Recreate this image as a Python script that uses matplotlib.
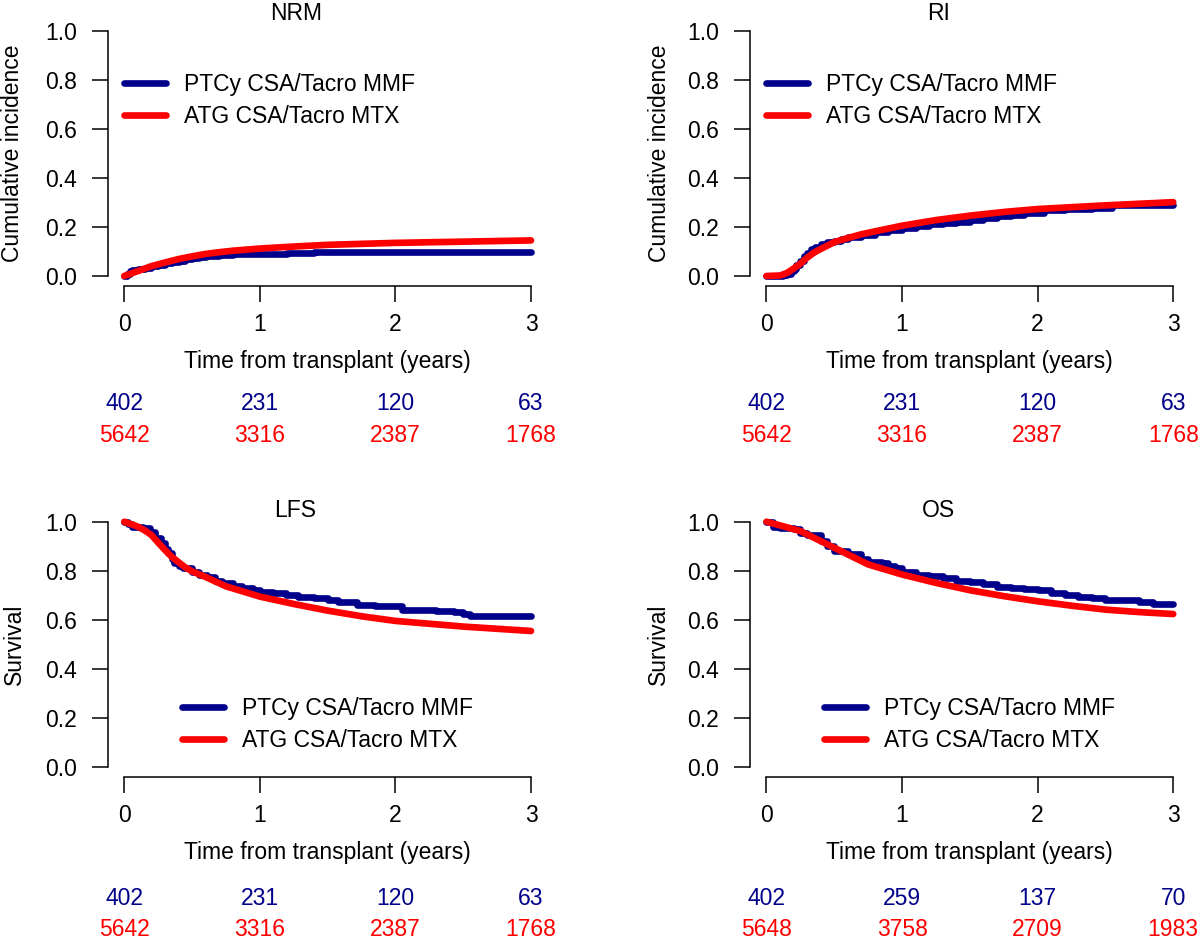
import matplotlib
matplotlib.use("Agg")
import matplotlib.pyplot as plt
import matplotlib.transforms as mtransforms
from matplotlib.lines import Line2D

plt.rcParams['font.family'] = ['Liberation Sans', 'DejaVu Sans']

# --- data ---
BLUE = "#00008B"
RED = "#FF0000"
LABEL_PT = "PTCy CSA/Tacro MMF"
LABEL_ATG = "ATG CSA/Tacro MTX"

# NRM
nrm_pt_t = [0, 0.02, 0.04, 0.06, 0.1, 0.15, 0.2, 0.25, 0.3, 0.35, 0.4, 0.45, 0.5, 0.55,
            0.6, 0.7, 0.8, 0.9, 1.0, 1.2, 1.4, 3.0]
nrm_pt_v = [0, 0.010, 0.020, 0.026, 0.028, 0.033, 0.040, 0.046, 0.052, 0.057, 0.063, 0.068,
            0.072, 0.076, 0.080, 0.085, 0.088, 0.089, 0.090, 0.092, 0.096, 0.096]
nrm_atg_t = [0, 0.05, 0.1, 0.2, 0.3, 0.4, 0.5, 0.6, 0.7, 0.8, 1.0, 1.25, 1.5, 2.0, 2.5, 3.0]
nrm_atg_v = [0, 0.010, 0.020, 0.040, 0.055, 0.069, 0.080, 0.090, 0.097, 0.103, 0.112,
             0.120, 0.127, 0.135, 0.140, 0.145]

# RI
ri_pt_t = [0, 0.12, 0.15, 0.18, 0.2, 0.22, 0.25, 0.28, 0.3, 0.33, 0.36, 0.4, 0.45, 0.5,
           0.55, 0.6, 0.7, 0.8, 0.9, 1.0, 1.1, 1.2, 1.3, 1.4, 1.5, 1.6, 1.7, 1.8, 1.9,
           2.05, 2.2, 2.4, 2.55, 3.0]
ri_pt_v = [0, 0.005, 0.01, 0.02, 0.03, 0.045, 0.06, 0.08, 0.095, 0.11, 0.12, 0.13, 0.138,
           0.143, 0.15, 0.158, 0.168, 0.178, 0.186, 0.195, 0.203, 0.21, 0.216, 0.222,
           0.228, 0.236, 0.243, 0.25, 0.255, 0.268, 0.272, 0.277, 0.29, 0.29]
ri_atg_t = [0, 0.1, 0.15, 0.2, 0.25, 0.3, 0.35, 0.4, 0.5, 0.6, 0.7, 0.8, 1.0, 1.25, 1.5,
            1.75, 2.0, 2.5, 3.0]
ri_atg_v = [0, 0.002, 0.012, 0.03, 0.05, 0.075, 0.095, 0.11, 0.138, 0.155, 0.17, 0.182,
            0.205, 0.228, 0.246, 0.261, 0.273, 0.288, 0.301]

# LFS
lfs_pt_t = [0, 0.03, 0.06, 0.14, 0.19, 0.23, 0.27, 0.3, 0.32, 0.35, 0.37, 0.4, 0.43, 0.5,
            0.55, 0.61, 0.67, 0.72, 0.8, 0.87, 0.95, 1.0, 1.1, 1.19, 1.28, 1.4, 1.5, 1.58,
            1.72, 1.85, 2.05, 2.3, 2.43, 2.5, 2.55, 3.0]
lfs_pt_v = [1.0, 0.99, 0.98, 0.973, 0.96, 0.935, 0.912, 0.89, 0.871, 0.85, 0.83, 0.82,
            0.81, 0.795, 0.785, 0.776, 0.76, 0.749, 0.738, 0.729, 0.722, 0.715, 0.708,
            0.701, 0.695, 0.688, 0.68, 0.674, 0.661, 0.657, 0.64, 0.638, 0.632, 0.625,
            0.616, 0.616]
lfs_atg_t = [0, 0.05, 0.1, 0.15, 0.2, 0.25, 0.3, 0.35, 0.4, 0.45, 0.5, 0.6, 0.75, 1.0,
             1.25, 1.5, 1.75, 2.0, 2.5, 3.0]
lfs_atg_v = [1.0, 0.99, 0.98, 0.965, 0.946, 0.915, 0.885, 0.857, 0.835, 0.814, 0.798,
             0.775, 0.737, 0.695, 0.665, 0.638, 0.615, 0.596, 0.573, 0.555]

# OS
os_pt_t = [0, 0.05, 0.1, 0.2, 0.25, 0.3, 0.4, 0.45, 0.5, 0.6, 0.7, 0.75, 0.85, 0.9, 0.95,
           1.0, 1.1, 1.2, 1.3, 1.4, 1.5, 1.6, 1.7, 1.8, 1.9, 2.0, 2.1, 2.2, 2.3, 2.4, 2.5,
           2.75, 2.85, 3.0]
os_pt_v = [1.0, 0.98, 0.975, 0.97, 0.955, 0.945, 0.92, 0.90, 0.88, 0.87, 0.85, 0.835, 0.83,
           0.82, 0.81, 0.795, 0.785, 0.78, 0.77, 0.76, 0.755, 0.745, 0.735, 0.73, 0.725,
           0.72, 0.71, 0.70, 0.695, 0.69, 0.68, 0.675, 0.665, 0.665]
os_atg_t = [0, 0.1, 0.25, 0.5, 0.75, 1.0, 1.25, 1.5, 1.75, 2.0, 2.25, 2.5, 2.75, 3.0]
os_atg_v = [1.0, 0.985, 0.962, 0.894, 0.826, 0.785, 0.751, 0.721, 0.697, 0.676, 0.658,
            0.642, 0.632, 0.624]

# numbers at risk at years 0..3
risk_years = [0, 1, 2, 3]
nrm_risk_pt = [402, 231, 120, 63]
nrm_risk_atg = [5642, 3316, 2387, 1768]
ri_risk_pt = [402, 231, 120, 63]
ri_risk_atg = [5642, 3316, 2387, 1768]
lfs_risk_pt = [402, 231, 120, 63]
lfs_risk_atg = [5642, 3316, 2387, 1768]
os_risk_pt = [402, 259, 137, 70]
os_risk_atg = [5648, 3758, 2709, 1983]

# --- layout (pixels of the 1200x942 canvas) ---
W, H = 1200, 942
FS = 16.5
LW = 4.8

fig = plt.figure(figsize=(W / 100, H / 100), dpi=100)


def fx(x):
    return x / W


def fy(y):
    return 1 - y / H


def make_ax(left, top, right, bottom):
    ax = fig.add_axes([fx(left), fy(bottom), (right - left) / W, (bottom - top) / H])
    ax.set_xlim(-0.12, 3.12)
    ax.set_ylim(-0.04, 1.04)
    for s in ("top", "right"):
        ax.spines[s].set_visible(False)
    ax.spines["left"].set_bounds(0, 1)
    ax.spines["bottom"].set_bounds(0, 3)
    for s in ("left", "bottom"):
        ax.spines[s].set_linewidth(1.1)
    ax.set_xticks([0, 1, 2, 3])
    ax.set_yticks([0, 0.2, 0.4, 0.6, 0.8, 1.0])
    ax.set_yticklabels(["0.0", "0.2", "0.4", "0.6", "0.8", "1.0"])
    ax.tick_params(axis="both", direction="out", length=11.5, width=1.1, labelsize=FS)
    ax.tick_params(axis="y", pad=11)
    ax.tick_params(axis="x", pad=8)
    return ax


panels = [
    dict(rect=(108.0, 20.9, 547.3, 285.8), title="NRM", tx=296, ty=20,
         ylabel="Cumulative incidence", yx=13, yc=153,
         pt=(nrm_pt_t, nrm_pt_v), atg=(nrm_atg_t, nrm_atg_v),
         risk=(nrm_risk_pt, nrm_risk_atg), leg=(124, 73), xlb=368, rb=(410, 442)),
    dict(rect=(750.2, 20.9, 1189.5, 285.8), title="RI", tx=939, ty=20,
         ylabel="Cumulative incidence", yx=659, yc=153,
         pt=(ri_pt_t, ri_pt_v), atg=(ri_atg_t, ri_atg_v),
         risk=(ri_risk_pt, ri_risk_atg), leg=(766, 73), xlb=368, rb=(410, 442)),
    dict(rect=(108.0, 511.9, 547.3, 777.1), title="LFS", tx=295, ty=517,
         ylabel="Survival", yx=14, yc=644,
         pt=(lfs_pt_t, lfs_pt_v), atg=(lfs_atg_t, lfs_atg_v),
         risk=(lfs_risk_pt, lfs_risk_atg), leg=(182, 697), xlb=859, rb=(905, 936)),
    dict(rect=(750.2, 511.9, 1189.5, 777.1), title="OS", tx=938, ty=517,
         ylabel="Survival", yx=658, yc=644,
         pt=(os_pt_t, os_pt_v), atg=(os_atg_t, os_atg_v),
         risk=(os_risk_pt, os_risk_atg), leg=(824, 697), xlb=859, rb=(905, 936)),
]

for p in panels:
    ax = make_ax(*p["rect"])
    ax.step(p["pt"][0], p["pt"][1], where="post", color=BLUE, lw=LW,
            solid_capstyle="round", solid_joinstyle="round")
    ax.plot(p["atg"][0], p["atg"][1], color=RED, lw=LW,
            solid_capstyle="round", solid_joinstyle="round")

    handles = [Line2D([], [], color=BLUE, lw=LW, solid_capstyle="round"),
               Line2D([], [], color=RED, lw=LW, solid_capstyle="round")]
    ax.legend(handles, [LABEL_PT, LABEL_ATG], loc="upper left",
              bbox_to_anchor=(fx(p["leg"][0]), fy(p["leg"][1])),
              bbox_transform=fig.transFigure, frameon=False, fontsize=FS,
              borderpad=0, borderaxespad=0, handlelength=1.83,
              handletextpad=0.78, labelspacing=0.4)

    fig.text(fx(p["tx"]), fy(p["ty"]), p["title"], ha="center", va="baseline", fontsize=FS)
    fig.text(fx(p["yx"]), fy(p["yc"]), p["ylabel"], ha="center", va="center",
             rotation=90, fontsize=FS)

    left, top, right, bottom = p["rect"]
    fig.text(fx((left + right) / 2), fy(p["xlb"]), "Time from transplant (years)",
             ha="center", va="baseline", fontsize=FS)

    # numbers at risk under each year tick
    trans = mtransforms.blended_transform_factory(ax.transData, fig.transFigure)
    for yr, n_pt, n_atg in zip(risk_years, p["risk"][0], p["risk"][1]):
        ax.text(yr, fy(p["rb"][0]), str(n_pt), transform=trans, ha="center",
                va="baseline", fontsize=FS, color=BLUE, clip_on=False)
        ax.text(yr, fy(p["rb"][1]), str(n_atg), transform=trans, ha="center",
                va="baseline", fontsize=FS, color=RED, clip_on=False)

fig.savefig("out.png", dpi=100)
